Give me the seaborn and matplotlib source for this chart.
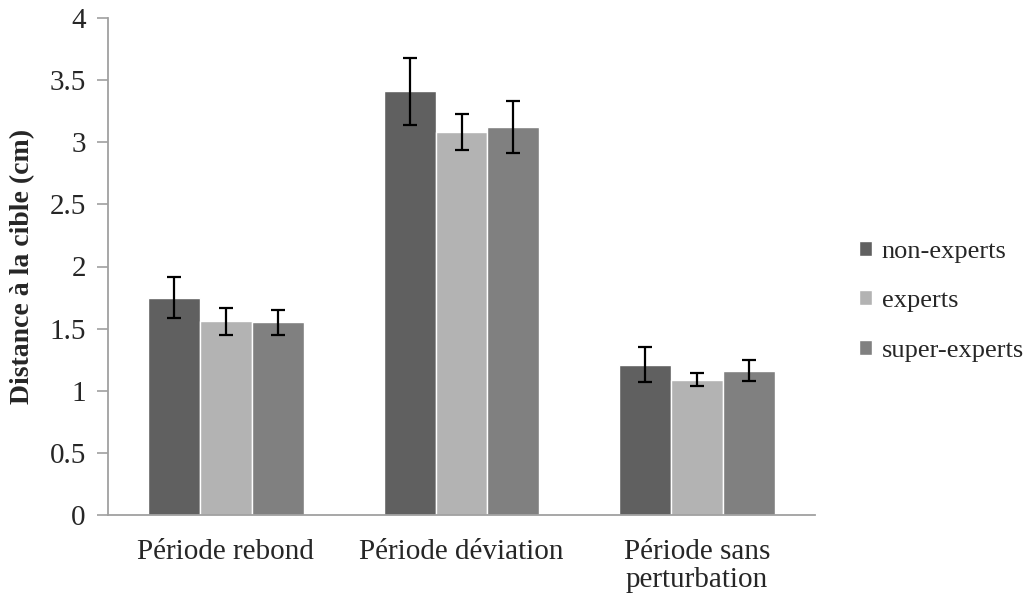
import seaborn as sns
import matplotlib.pyplot as plt
import pandas as pd

periods = ["Période rebond", "Période déviation", "Période sans\nperturbation"]
groups = ["non-experts", "experts", "super-experts"]
non_experts = [1.75, 3.41, 1.21]
experts = [1.56, 3.08, 1.09]
super_experts = [1.55, 3.12, 1.16]
err_non_experts = [0.165, 0.27, 0.14]
err_experts = [0.11, 0.145, 0.05]
err_super_experts = [0.10, 0.21, 0.085]

colors = ["#606060", "#b3b3b3", "#808080"]

rows = []
for g, vals in zip(groups, [non_experts, experts, super_experts]):
    for p, v in zip(periods, vals):
        rows.append({"period": p, "group": g, "distance": v})
df = pd.DataFrame(rows)

sns.set_style("white")
plt.rcParams["font.family"] = ["Liberation Serif", "DejaVu Serif"]

fig = plt.figure(figsize=(10.24, 5.99), dpi=100)
ax = fig.add_axes([108 / 1024, 84 / 599, 707 / 1024, 497 / 599])

sns.barplot(data=df, x="period", y="distance", hue="group", palette=colors,
            width=0.66, errorbar=None, saturation=1, ax=ax)

# error bars on top of each bar
for cont, errs in zip(ax.containers, [err_non_experts, err_experts, err_super_experts]):
    xs = [b.get_x() + b.get_width() / 2 for b in cont]
    hs = [b.get_height() for b in cont]
    ax.errorbar(xs, hs, yerr=errs, fmt="none", ecolor="black",
                elinewidth=1.6, capsize=4.7, capthick=1.6)

ax.set_ylim(0, 4)
ax.set_yticks([0, 0.5, 1, 1.5, 2, 2.5, 3, 3.5, 4])
ax.set_yticklabels(["0", "0.5", "1", "1.5", "2", "2.5", "3", "3.5", "4"])
ax.set_xlim(-0.5, 2.5)
ax.set_xlabel("")
ax.set_ylabel("Distance à la cible (cm)", fontsize=20, fontweight="bold", labelpad=10)
ax.tick_params(axis="y", labelsize=21, length=8, width=1.2, color="#a0a0a0",
               left=True, pad=8)
ax.tick_params(axis="x", labelsize=21, length=0, pad=17)
for lbl in ax.get_xticklabels():
    lbl.set_linespacing(1.1)
sns.despine(ax=ax)
for s in ["left", "bottom"]:
    ax.spines[s].set_color("#a0a0a0")
    ax.spines[s].set_linewidth(1.3)

ax.legend(loc="center left", bbox_to_anchor=(1.029, 0.43), frameon=False,
          fontsize=19, handlelength=0.5, handleheight=0.5, handletextpad=0.35,
          labelspacing=1.05)

fig.savefig("out.png", dpi=100)
